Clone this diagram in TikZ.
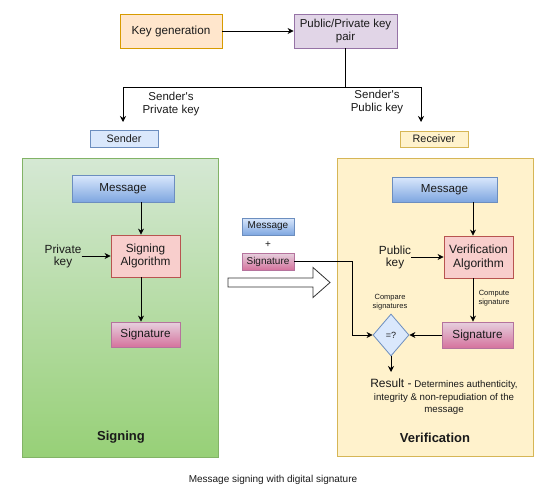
\documentclass[tikz,border=0pt]{standalone}
\usepackage{fontspec}
\setmainfont{Liberation Sans}
\usetikzlibrary{arrows.meta,shapes.geometric,calc}
\definecolor{orF}{HTML}{FFE6CC}\definecolor{orD}{HTML}{D79B00}
\definecolor{puF}{HTML}{E1D5E7}\definecolor{puD}{HTML}{9673A6}
\definecolor{blF}{HTML}{DAE8FC}\definecolor{blD}{HTML}{6C8EBF}\definecolor{blB}{HTML}{7EA6E0}
\definecolor{yeF}{HTML}{FFF2CC}\definecolor{yeD}{HTML}{D6B656}
\definecolor{grT}{HTML}{D5E8D4}\definecolor{grB}{HTML}{97D077}\definecolor{grD}{HTML}{82B366}
\definecolor{reF}{HTML}{F8CECC}\definecolor{reD}{HTML}{B85450}
\definecolor{piT}{HTML}{E6D0DE}\definecolor{piB}{HTML}{D5739D}\definecolor{piD}{HTML}{B5739D}
\definecolor{txt}{HTML}{1A1A1A}
\newcommand{\fs}[1]{\fontsize{#1}{#1}\selectfont}
\tikzset{
  box/.style={draw, line width=0.8pt, inner sep=0pt, align=center, text=txt},
  keybox/.style={box, fill=orF, draw=orD},
  pairbox/.style={box, fill=puF, draw=puD},
  blubox/.style={box, fill=blF, draw=blD},
  yelbox/.style={box, fill=yeF, draw=yeD},
  msgbox/.style={box, draw=blD, top color=blF, bottom color=blB},
  algbox/.style={box, fill=reF, draw=reD},
  sigbox/.style={box, draw=piD, top color=piT, bottom color=piB},
  lbl/.style={inner sep=0pt, align=center, text=txt},
  arr/.style={draw=black, line width=0.8pt, -{Stealth[length=6pt,width=6pt]}},
  ln/.style={draw=black, line width=0.8pt},
}
\begin{document}
\begin{tikzpicture}[x=1pt,y=-1pt]
\useasboundingbox (0,0) rectangle (553,495);
% top
\node[keybox, minimum width=102pt, minimum height=34pt, font=\fs{11.7}] (kg) at (171,31) {Key generation};
\node[pairbox, minimum width=103pt, minimum height=34pt, font=\fs{11.5}] (pair) at (345.5,31) {Public/Private key\\[2pt]pair};
\draw[arr] (kg) -- (pair);
\coordinate (sp) at (123,122);
\coordinate (rp) at (421,122);
\draw[ln] (pair.south) -- ++(0,39) coordinate (j);
\draw[arr] (j) -| (sp);
\draw[arr] (j) -| (rp);
\node[lbl, font=\fs{11.5}] (lpriv) at (171,104) {Sender\textquotesingle s\\[2pt]Private key};
\node[lbl, font=\fs{11.5}] (lpub) at (377,102) {Sender\textquotesingle s\\[2pt]Public key};
\node[blubox, minimum width=68pt, minimum height=17pt, font=\fs{10.8}] (sender) at (124,139) {Sender};
\node[yelbox, minimum width=68pt, minimum height=16pt, font=\fs{10.8}] (receiver) at (434,139) {Receiver};
% panels
\path[draw=grD, line width=0.8pt, top color=grT, bottom color=grB] (22,158) rectangle (218,457);
\path[draw=yeD, line width=0.8pt, fill=yeF] (337,158) rectangle (533,456);
% signing
\node[msgbox, minimum width=102pt, minimum height=27pt, font=\fs{11.6}] (msgL) at (123,188.5) {Message};
\node[algbox, minimum width=69pt, minimum height=42pt, font=\fs{11.8}] (alg) at (145.5,256) {Signing\\[2pt]Algorithm};
\node[sigbox, minimum width=69pt, minimum height=25pt, font=\fs{11.7}] (sigL) at (145.5,334.5) {Signature};
\coordinate (ax) at (141,0);
\draw[arr] (msgL.south -| ax) -- (alg.north -| ax);
\draw[arr] (alg.south -| ax) -- (sigL.north -| ax);
\node[lbl, font=\fs{11.8}] (pk) at (63,256.5) {Private\\[1pt]key};
\draw[arr] (pk.east |- alg.west) -- (alg.west);
\node[lbl, font=\bfseries\fs{13}] (signing) at (121,437) {Signing};
% middle
\node[msgbox, minimum width=52pt, minimum height=17pt, font=\fs{10}] (msgS) at (268,226.5) {Message};
\node[lbl, font=\fs{10}] (plus) at (268,245) {+};
\node[sigbox, minimum width=52pt, minimum height=17pt, font=\fs{10}] (sigS) at (268,261.5) {Signature};
\draw[draw=black!80, line width=0.8pt, fill=white] (228,278) -- (313,278) -- (313,267.5) -- (330,282.5) -- (313,297.5) -- (313,287) -- (228,287) -- cycle;
% verification
\node[msgbox, minimum width=105pt, minimum height=25pt, font=\fs{11.6}] (msgR) at (444.5,189.5) {Message};
\node[algbox, minimum width=69pt, minimum height=42pt, font=\fs{12}] (ver) at (478.5,257) {Verification\\[2pt]Algorithm};
\node[sigbox, minimum width=71pt, minimum height=26pt, font=\fs{11.7}] (sigR) at (477.5,335) {Signature};
\coordinate (bx) at (473,0);
\draw[arr] (msgR.south -| bx) -- (ver.north -| bx);
\draw[arr] (ver.south -| bx) -- (sigR.north -| bx);
\node[lbl, font=\fs{11.8}] (pub) at (395,257.5) {Public\\[1pt]key};
\draw[arr] (pub.east |- ver.west) -- (ver.west);
\node[lbl, font=\fs{7.5}] (comp) at (494,298) {Compute\\[2pt]signature};
\node[draw=blD, fill=blF, line width=0.8pt, diamond, minimum width=36pt, minimum height=42pt, inner sep=0pt, font=\fs{9}, text=txt] (dia) at (391,335) {=?};
\node[lbl, font=\fs{7.5}] (cmp) at (390,302) {Compare\\[2pt]signatures};
\draw[arr] (sigR.west) -- (dia.east);
\coordinate (bend) at (352,0);
\draw[arr] (sigS.east) -| (bend |- dia.west) -- (dia.west);
\coordinate (res) at (391,372);
\draw[arr] (dia.south) -- (res);
\node[lbl, font=\fs{9.7}, align=center] (result) at (444,396.5) {{\fontsize{12}{12}\selectfont Result -} Determines authenticity,\\[4pt] integrity \& non-repudiation of the\\[2pt] message};
\node[lbl, font=\bfseries\fs{13}] (verif) at (435,438) {Verification};
% caption
\node[lbl, font=\fs{10}] (cap) at (273,480) {Message signing with digital signature};
\end{tikzpicture}
\end{document}
